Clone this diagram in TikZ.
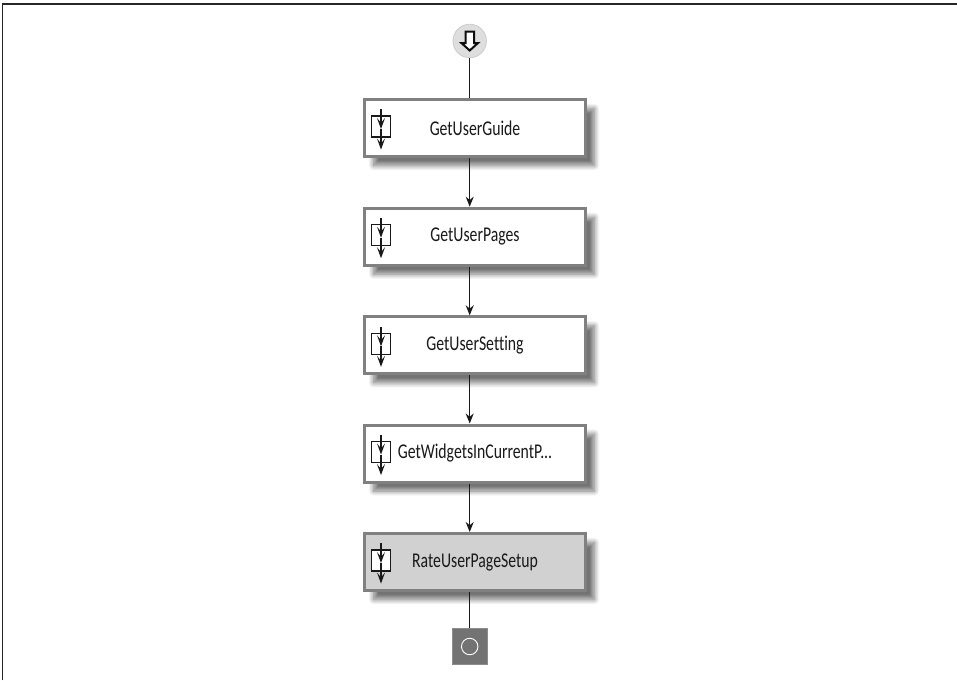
\documentclass[tikz,border=0pt]{standalone}
\usepackage{fontspec}
\setmainfont[FakeStretch=0.75,Ligatures=NoCommon]{Carlito}
\usetikzlibrary{arrows.meta,shadows.blur}
\tikzset{
  conn/.style={draw=black!90,line width=1.2pt},
  flow/.style={conn,-{Stealth[length=10pt,width=8pt]}},
  act/.style={draw=black!50,line width=3pt,fill=white,minimum width=221pt,minimum height=57pt,inner sep=0pt,text=black!90,font=\fontsize{21}{23}\selectfont,
    blur shadow={shadow xshift=9pt,shadow yshift=-9pt,shadow blur steps=12,shadow blur radius=5pt,shadow opacity=55}},
  sel/.style={act,fill=black!18},
  mini/.style={draw=black!90,line width=1.1pt,fill=white,minimum width=19.5pt,minimum height=21pt,inner sep=0pt},
  miniarrow/.style={draw=black!90,line width=1.1pt,-{Stealth[length=11pt,width=8pt,inset=5pt]}},
  startc/.style={circle,fill=black!13,draw=black!20,line width=.8pt,minimum size=33.5pt,inner sep=0pt},
  endsq/.style={fill=black!55,draw=black!45,line width=.6pt,minimum size=35.5pt,inner sep=0pt},
  endc/.style={circle,draw=white,line width=.9pt,minimum size=16.5pt,inner sep=0pt}
}
\begin{document}
\begin{tikzpicture}[x=1pt,y=-1pt]
\useasboundingbox (0,0) rectangle (957,680);
\draw[black!85,line width=1.5pt] (2.5,680) -- (2.5,4) -- (957,4);
\node[startc] (s) at (469.7,41) {};
\draw[black!95,line width=2pt,fill=white,line join=miter]
  (465.5,31.5) -- (474,31.5) -- (474,43) -- (478,43) -- (469.7,50.5) -- (461.4,43) -- (465.5,43) -- cycle;
\node[act] (a1) at (475,128) {GetUserGuide};
\node[act] (a2) at (475,236.7) {GetUserPages};
\node[act] (a3) at (475,345.3) {GetUserSetting};
\node[act] (a4) at (475,453.5) {GetWidgetsInCurrentP...};
\node[sel] (a5) at (475,562) {RateUserPageSetup};
\node[endsq] (e) at (469.7,646.5) {};
\node[endc] (ec) at (e) {};
\draw[conn] (s.south) -- (s.south |- a1.north);
\draw[flow] (a1.south -| s) -- (a2.north -| s);
\draw[flow] (a2.south -| s) -- (a3.north -| s);
\draw[flow] (a3.south -| s) -- (a4.north -| s);
\draw[flow] (a4.south -| s) -- (a5.north -| s);
\draw[conn] (a5.south -| s) -- (e.north);
\foreach \n in {a1,a2,a3,a4,a5}{
  \node[mini] (m\n) at ([xshift=-94pt,yshift=1.5pt]\n.center) {};
  \coordinate (mt\n) at ([yshift=6pt]m\n.north);
  \coordinate (mb\n) at ([yshift=-12pt]m\n.south);
  \coordinate (mc\n) at ([yshift=-2.5pt]m\n.center);
  \draw[miniarrow] (mt\n) -- (mc\n);
  \draw[miniarrow] (mc\n) -- (mb\n);
}
\end{tikzpicture}
\end{document}
